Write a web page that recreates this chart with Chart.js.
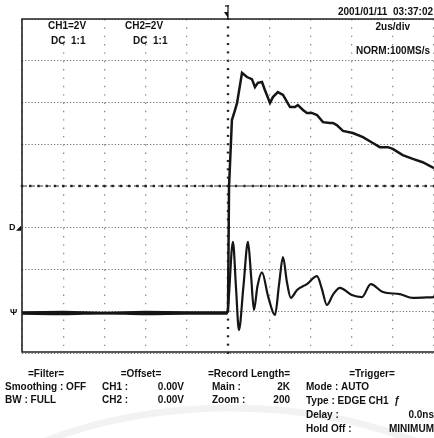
<!DOCTYPE html>
<html>
<head>
<meta charset="utf-8">
<script src="https://cdn.jsdelivr.net/npm/chart.js@4"></script>
<style>
html,body{margin:0;padding:0;background:#fff;}
#wrap{width:434px;height:438px;position:relative;}
</style>
</head>
<body>
<div id="wrap"><canvas id="c" width="434" height="438"></canvas></div>
<script>
// time in microseconds (2 us/div, trigger at 0), amplitude in divisions
const ch1Time = [-10, -8, -6, -4, -2, -0.05, 0, 0.05, 0.19, 0.34, 0.44, 0.68, 0.92, 1.16, 1.31, 1.45, 1.65, 1.79, 2.04, 2.18, 2.42, 2.67, 3.01, 3.25, 3.39, 3.64, 3.83, 4.07, 4.32, 4.61, 4.95, 5.09, 5.28, 5.58, 6.06, 6.55, 7.03, 7.37, 7.76, 8.00, 8.48, 8.97, 9.45, 10];
const ch1Volts = [-3.03, -3.02, -3.04, -3.02, -3.03, -3.03, -3.0, -0.02, 1.58, 1.82, 1.99, 2.71, 2.61, 2.56, 2.37, 2.47, 2.49, 2.30, 1.99, 2.13, 2.25, 2.18, 1.89, 1.89, 1.94, 1.82, 1.75, 1.75, 1.70, 1.53, 1.51, 1.51, 1.46, 1.32, 1.27, 1.17, 1.03, 0.93, 0.93, 0.89, 0.74, 0.65, 0.57, 0.43];
const ch2Time = [-10, -8, -6, -4, -2, -0.06, 0.0, 0.24, 0.39, 0.53, 0.75, 0.97, 1.12, 1.26, 1.43, 1.65, 1.95, 2.28, 2.48, 2.67, 2.86, 3.05, 3.35, 3.83, 4.32, 4.55, 4.80, 5.10, 5.43, 6.01, 6.50, 6.93, 7.52, 8.34, 8.97, 10];
const ch2Volts = [-3.06, -3.07, -3.05, -3.07, -3.06, -3.06, -2.92, -1.34, -2.45, -3.45, -2.40, -1.34, -2.15, -2.97, -2.40, -2.07, -2.65, -3.09, -2.35, -1.70, -2.30, -2.68, -2.49, -2.35, -2.16, -2.45, -2.85, -2.60, -2.44, -2.61, -2.66, -2.35, -2.54, -2.59, -2.68, -2.66];

const topLeftText = [["CH1=2V", 48, 26], ["DC  1:1", 51, 41], ["CH2=2V", 125, 26], ["DC  1:1", 133, 41]];
const topRightText = [["2001/01/11  03:37:02", 433, 12], ["2us/div", 410, 27], ["NORM:100MS/s", 430, 51]];
const headerText = [["=Filter=", 46, 374], ["=Offset=", 141, 374], ["=Record Length=", 249, 374], ["=Trigger=", 372, 374]];
const leftText = [["Smoothing : OFF", 5, 387], ["BW : FULL", 5, 400], ["CH1 :", 102, 387], ["CH2 :", 102, 400], ["Main :", 212, 387], ["Zoom :", 212, 400], ["Mode : AUTO", 306, 387], ["Type : EDGE CH1  \u0192", 306, 401], ["Delay :", 306, 415], ["Hold Off :", 306, 429]];
const rightText = [["0.00V", 184, 387], ["0.00V", 184, 400], ["2K", 290, 387], ["200", 290, 400], ["0.0ns", 434, 415], ["MINIMUM", 434, 429]];

const pts = (xs, ys) => xs.map((x, i) => ({x: x, y: ys[i]}));

const scopePlugin = {
  id: 'scope',
  beforeDatasetsDraw(chart) {
    const ctx = chart.ctx, a = chart.chartArea;
    const xs = chart.scales.x, ys = chart.scales.y;
    ctx.save();
    const y0 = ys.getPixelForValue(0);
    ctx.strokeStyle = '#333';
    ctx.lineWidth = 1;
    ctx.setLineDash([5, 3]);
    ctx.beginPath(); ctx.moveTo(a.left, y0); ctx.lineTo(a.right, y0); ctx.stroke();
    ctx.setLineDash([]);
    ctx.fillStyle = '#222';
    for (let t = -10; t <= 10.001; t += 0.4) {
      const px = xs.getPixelForValue(t);
      ctx.fillRect(px - 1.2, y0 - 1.2, 2.4, 2.4);
    }
    const x0 = xs.getPixelForValue(0);
    for (let v = -4; v <= 4.001; v += 0.2) {
      const py = ys.getPixelForValue(v);
      ctx.fillRect(x0 - 1.2, py - 1, 2.4, 2);
    }
    ctx.restore();
  },
  afterDraw(chart) {
    const ctx = chart.ctx, a = chart.chartArea;
    const xs = chart.scales.x, ys = chart.scales.y;
    ctx.save();
    ctx.strokeStyle = '#222';
    ctx.lineWidth = 1.6;
    ctx.beginPath();
    ctx.moveTo(a.right + 2, a.top); ctx.lineTo(a.left, a.top); ctx.lineTo(a.left, a.bottom - 1); ctx.lineTo(a.right + 2, a.bottom - 1);
    ctx.stroke();
    const x0 = xs.getPixelForValue(0);
    ctx.fillStyle = '#111';
    ctx.lineWidth = 1.3;
    ctx.beginPath(); ctx.moveTo(x0, a.top - 14); ctx.lineTo(x0, a.top); ctx.stroke();
    ctx.beginPath(); ctx.moveTo(x0 - 4, a.top - 7); ctx.lineTo(x0, a.top - 7); ctx.lineTo(x0, a.top - 1); ctx.closePath(); ctx.fill();
    ctx.beginPath(); ctx.moveTo(x0 - 3, a.top - 13); ctx.lineTo(x0 + 1, a.top - 13); ctx.stroke();
    ctx.font = 'bold 9px "Liberation Sans"';
    ctx.textBaseline = 'middle';
    ctx.textAlign = 'left';
    const m1 = ys.getPixelForValue(-1);
    ctx.fillText('D', 9, m1);
    ctx.beginPath(); ctx.moveTo(16, m1 + 3); ctx.lineTo(21, m1 + 3); ctx.lineTo(21, m1 - 2); ctx.closePath(); ctx.fill();
    const m2 = ys.getPixelForValue(-3);
    ctx.fillText('\u03A8', 10, m2 + 1);
    ctx.fillStyle = '#111';
    ctx.font = 'bold 10px "Liberation Sans"';
    topLeftText.forEach(t => { ctx.textAlign = 'left'; ctx.fillText(t[0], t[1], t[2]); });
    topRightText.forEach(t => { ctx.textAlign = 'right'; ctx.fillText(t[0], t[1], t[2]); });
    headerText.forEach(t => { ctx.textAlign = 'center'; ctx.fillText(t[0], t[1], t[2]); });
    leftText.forEach(t => { ctx.textAlign = 'left'; ctx.fillText(t[0], t[1], t[2]); });
    rightText.forEach(t => { ctx.textAlign = 'right'; ctx.fillText(t[0], t[1], t[2]); });
    ctx.strokeStyle = 'rgba(0,0,0,0.05)';
    ctx.lineWidth = 7;
    ctx.beginPath();
    ctx.ellipse(230, 640, 360, 232, 0, Math.PI * 1.05, Math.PI * 1.95);
    ctx.stroke();
    ctx.restore();
  }
};

new Chart(document.getElementById('c'), {
  type: 'line',
  data: {
    datasets: [
      {label: 'CH1', data: pts(ch1Time, ch1Volts), borderColor: '#151515', borderWidth: 2.5, pointRadius: 0, tension: 0, fill: false},
      {label: 'CH2', data: pts(ch2Time, ch2Volts), borderColor: '#151515', borderWidth: 2.2, pointRadius: 0, cubicInterpolationMode: 'monotone', fill: false}
    ]
  },
  options: {
    responsive: false,
    animation: false,
    devicePixelRatio: 1,
    layout: {padding: {left: 22, right: 0, top: 19, bottom: 85}},
    plugins: {legend: {display: false}, tooltip: {enabled: false}},
    scales: {
      x: {
        type: 'linear', min: -10, max: 10,
        afterFit: s => { s.height = 0; },
        ticks: {display: false, stepSize: 2},
        grid: {drawTicks: false, color: c => (c.tick && c.tick.value === 0) ? 'rgba(0,0,0,0)' : '#8a8a8a', lineWidth: 1.3},
        border: {display: false, dash: [1.4, 6.95]}
      },
      y: {
        type: 'linear', min: -4, max: 4,
        afterFit: s => { s.width = 0; },
        ticks: {display: false, stepSize: 1},
        grid: {drawTicks: false, color: c => (c.tick && c.tick.value === 0) ? 'rgba(0,0,0,0)' : '#6e6e6e', lineWidth: 1},
        border: {display: false, dash: [1.2, 2]}
      }
    }
  },
  plugins: [scopePlugin]
});
</script>
</body>
</html>
